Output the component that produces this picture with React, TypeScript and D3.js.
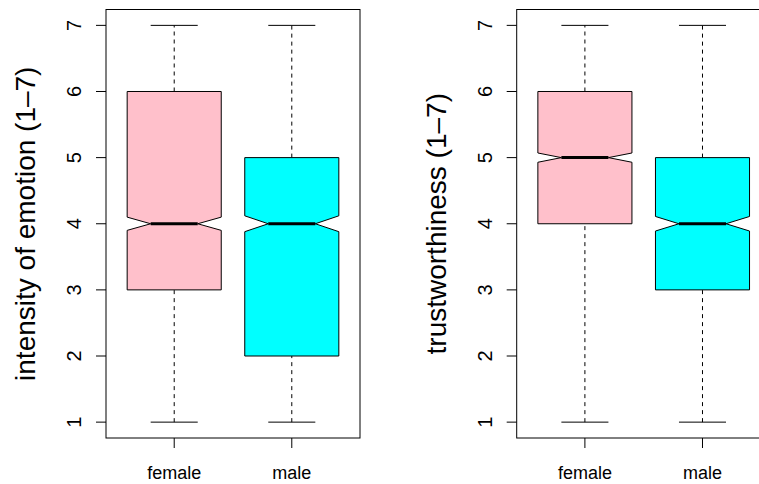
import React from "react";
import * as d3 from "d3";

// Groups shown on the x axis of each panel
const groups = ["female", "male"];
const fills = ["#FFC0CB", "#00FFFF"];
const yTicks = [1, 2, 3, 4, 5, 6, 7];

// Five-number summaries plus notch bounds, one row per group
// [min, q1, median, q3, max, notchLow, notchHigh]
const emotionStats = [
  [1, 3, 4, 6, 7, 3.9, 4.1],
  [1, 2, 4, 5, 7, 3.88, 4.12],
];
const trustStats = [
  [1, 4, 5, 6, 7, 4.93, 5.07],
  [1, 3, 4, 5, 7, 3.89, 4.11],
];

const panelTitles = ["intensity of emotion (1\u20137)", "trustworthiness (1\u20137)"];

const W = 759;
const H = 484;
const FONT = "'Liberation Sans', Arial, Helvetica, sans-serif";

function Panel({ left, stats, title }: { left: number; stats: number[][]; title: string }) {
  const plotW = 254;
  const top = 9.5;
  const bottom = 438;
  const x = d3.scaleLinear().domain([0.42, 2.58]).range([left, left + plotW]);
  const y = d3.scaleLinear().domain([0.76, 7.24]).range([bottom, top]);
  const boxW = 0.8;
  const notchFrac = 0.5;
  const staple = 0.5;

  return (
    <g>
      {stats.map((s, i) => {
        const [mn, q1, med, q3, mx, nlo, nhi] = s;
        const cx = x(i + 1);
        const hw = x(i + 1 + boxW / 2) - cx;
        const nw = hw * notchFrac;
        const sw = hw * staple;
        const pts: [number, number][] = [
          [cx - hw, y(q1)],
          [cx - hw, y(nlo)],
          [cx - nw, y(med)],
          [cx - hw, y(nhi)],
          [cx - hw, y(q3)],
          [cx + hw, y(q3)],
          [cx + hw, y(nhi)],
          [cx + nw, y(med)],
          [cx + hw, y(nlo)],
          [cx + hw, y(q1)],
        ];
        const line = d3.line();
        return (
          <g key={i}>
            <line x1={cx} x2={cx} y1={y(mn)} y2={y(q1)} stroke="#000" strokeWidth={1} strokeDasharray="4,4" />
            <line x1={cx} x2={cx} y1={y(q3)} y2={y(mx)} stroke="#000" strokeWidth={1} strokeDasharray="4,4" />
            <line x1={cx - sw} x2={cx + sw} y1={y(mn)} y2={y(mn)} stroke="#000" strokeWidth={1} />
            <line x1={cx - sw} x2={cx + sw} y1={y(mx)} y2={y(mx)} stroke="#000" strokeWidth={1} />
            <path d={line(pts)! + "Z"} fill={fills[i]} stroke="#000" strokeWidth={1} strokeLinejoin="round" />
            <line x1={cx - nw} x2={cx + nw} y1={y(med)} y2={y(med)} stroke="#000" strokeWidth={3} />
          </g>
        );
      })}
      <rect x={left} y={top} width={plotW} height={bottom - top} fill="none" stroke="#000" strokeWidth={1} />
      {yTicks.map((t) => (
        <g key={t}>
          <line x1={left - 10} x2={left} y1={y(t)} y2={y(t)} stroke="#000" strokeWidth={1} />
          <text
            transform={`translate(${left - 25},${y(t)}) rotate(-90)`}
            textAnchor="middle"
            fontSize={20}
            fontFamily={FONT}
          >
            {t}
          </text>
        </g>
      ))}
      {groups.map((g, i) => (
        <g key={g}>
          <line x1={x(i + 1)} x2={x(i + 1)} y1={bottom} y2={bottom + 10} stroke="#000" strokeWidth={1} />
          <text x={x(i + 1)} y={479} textAnchor="middle" fontSize={18} fontFamily={FONT}>
            {g}
          </text>
        </g>
      ))}
      <text
        transform={`translate(${left - 71},${(top + bottom) / 2}) rotate(-90)`}
        textAnchor="middle"
        fontSize={28}
        fontFamily={FONT}
      >
        {title}
      </text>
    </g>
  );
}

export default function App() {
  return (
    <svg
      width={W}
      height={H}
      style={{ position: "absolute", left: 0, top: 0, display: "block", background: "#fff" }}
    >
      <rect x={0} y={0} width={W} height={H} fill="#fff" />
      <Panel left={106} stats={emotionStats} title={panelTitles[0]} />
      <Panel left={516.7} stats={trustStats} title={panelTitles[1]} />
    </svg>
  );
}
